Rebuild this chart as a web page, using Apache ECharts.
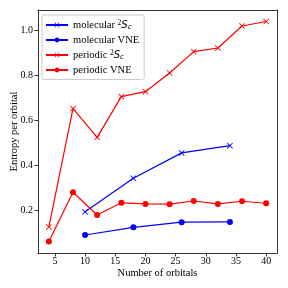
<!DOCTYPE html>
<html><head><meta charset="utf-8">
<script src="https://cdn.jsdelivr.net/npm/echarts@6/dist/echarts.min.js"></script>
<style>html,body{margin:0;padding:0;background:#fff}#c{width:288px;height:288px}</style>
</head><body><div id="c"></div>
<script>
const xTicks = [5, 10, 15, 20, 25, 30, 35, 40];
const yTicks = [0.2, 0.4, 0.6, 0.8, 1.0];
const periodicX = [4, 8, 12, 16, 20, 24, 28, 32, 36, 40];
const periodicSc = [0.126, 0.652, 0.524, 0.705, 0.727, 0.810, 0.905, 0.921, 1.019, 1.039];
const periodicVNE = [0.061, 0.280, 0.179, 0.233, 0.228, 0.227, 0.241, 0.228, 0.240, 0.231];
const molecularX = [10, 18, 26, 34];
const molecularSc = [0.193, 0.342, 0.455, 0.487];
const molecularVNE = [0.090, 0.124, 0.147, 0.148];

const xSym = 'path://M0,1L1,0L5,4L9,0L10,1L6,5L10,9L9,10L5,6L1,10L0,9L4,5Z';
const serif = 'Liberation Serif';
const pairs = (xs, ys) => xs.map((x, i) => [x, ys[i]]);

const labels = {
  'mSc': '{n|molecular }{sup|2}{it|S}{sub|c}',
  'mV': '{n|molecular VNE}',
  'pSc': '{n|periodic }{sup|2}{it|S}{sub|c}',
  'pV': '{n|periodic VNE}'
};

function series(name, xs, ys, color, sym) {
  return {
    name, type: 'line', data: pairs(xs, ys),
    symbol: sym === 'x' ? xSym : 'circle',
    symbolSize: 6,
    lineStyle: { color, width: 1.2 },
    itemStyle: { color },
    animation: false
  };
}

const spine = { show: true, lineStyle: { color: '#333', width: 1 } };
const chart = echarts.init(document.getElementById('c'), null, { renderer: 'canvas' });
chart.setOption({
  animation: false,
  grid: { left: 38, right: 11, top: 10, bottom: 35, containLabel: false, outerBoundsMode: 'none' },
  xAxis: [{
    type: 'value', min: 2.2, max: 41.8,
    name: 'Number of orbitals', nameLocation: 'middle', nameGap: 15, nameMoveOverlap: false,
    nameTextStyle: { fontFamily: serif, fontSize: 10.5, color: '#000' },
    axisLine: spine,
    axisTick: { show: true, inside: false, length: 3.5, lineStyle: { color: '#333' }, customValues: xTicks },
    axisLabel: { fontFamily: serif, fontSize: 10, color: '#000', margin: 3, customValues: xTicks },
    splitLine: { show: false }
  }, {
    type: 'value', position: 'top', min: 2.2, max: 41.8,
    axisLine: spine, axisTick: { show: false }, axisLabel: { show: false }, splitLine: { show: false }
  }],
  yAxis: [{
    type: 'value', min: 0.01, max: 1.09,
    name: 'Entropy per orbital', nameLocation: 'middle', nameGap: 18, nameRotate: 90, nameMoveOverlap: false,
    nameTextStyle: { fontFamily: serif, fontSize: 10.5, color: '#000' },
    axisLine: spine,
    axisTick: { show: true, inside: false, length: 3.5, lineStyle: { color: '#333' }, customValues: yTicks },
    axisLabel: { fontFamily: serif, fontSize: 10, color: '#000', margin: 5, customValues: yTicks, formatter: v => v.toFixed(1) },
    splitLine: { show: false }
  }, {
    type: 'value', position: 'right', min: 0.01, max: 1.09,
    axisLine: spine, axisTick: { show: false }, axisLabel: { show: false }, splitLine: { show: false }
  }],
  legend: {
    orient: 'vertical', left: 42, top: 15,
    data: ['mSc', 'mV', 'pSc', 'pV'],
    backgroundColor: '#fff', borderColor: '#ccc', borderWidth: 1, borderRadius: 2,
    padding: [4, 5, 4, 3], itemGap: 3.5, itemWidth: 22, itemHeight: 6,
    formatter: n => labels[n],
    textStyle: {
      fontFamily: serif, fontSize: 10.5, color: '#000',
      rich: {
        n: { fontFamily: serif, fontSize: 10.5, color: '#000', lineHeight: 12 },
        sup: { fontFamily: serif, fontSize: 7.5, color: '#000', verticalAlign: 'top', lineHeight: 12 },
        it: { fontFamily: 'DejaVu Sans', fontStyle: 'italic', fontSize: 10, color: '#000', lineHeight: 12 },
        sub: { fontFamily: 'DejaVu Sans', fontStyle: 'italic', fontSize: 7, color: '#000', verticalAlign: 'bottom', lineHeight: 12 }
      }
    }
  },
  series: [
    series('mSc', molecularX, molecularSc, '#0000ff', 'x'),
    series('mV', molecularX, molecularVNE, '#0000ff', 'o'),
    series('pSc', periodicX, periodicSc, '#ff0000', 'x'),
    series('pV', periodicX, periodicVNE, '#ff0000', 'o')
  ]
});
</script></body></html>
